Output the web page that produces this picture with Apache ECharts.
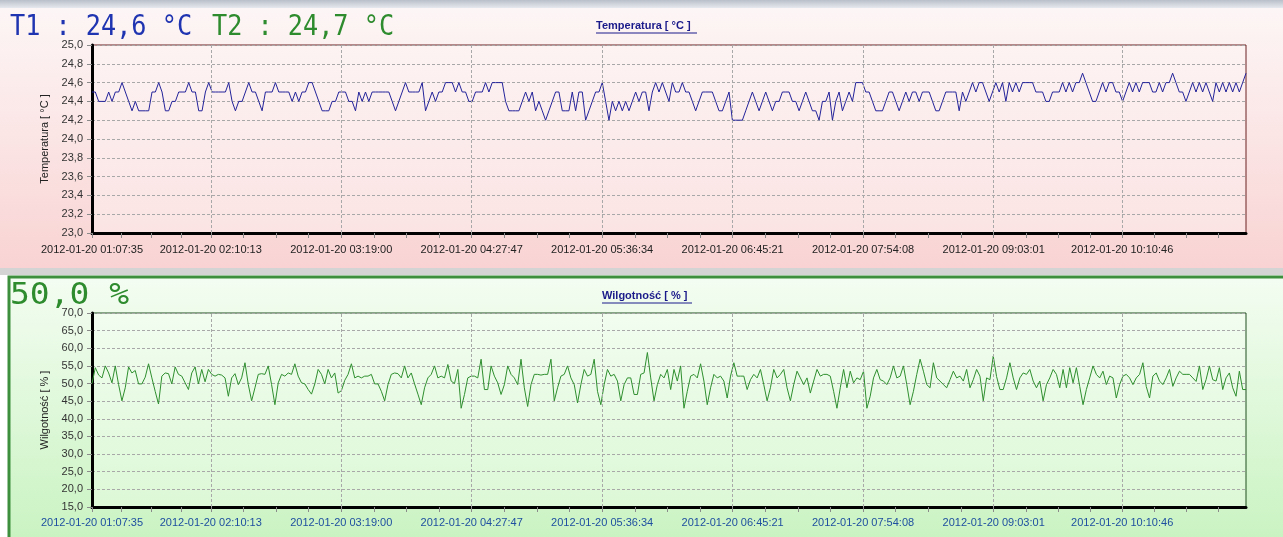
<!DOCTYPE html>
<html><head><meta charset="utf-8">
<script src="https://cdn.jsdelivr.net/npm/echarts@6/dist/echarts.min.js"></script>
<style>html,body{margin:0;padding:0;background:#fff}#c{width:1283px;height:537px}</style>
</head><body><div id="c"></div>
<script>
// ---- data ----
const timeLabels = ['2012-01-20 01:07:35','2012-01-20 02:10:13','2012-01-20 03:19:00','2012-01-20 04:27:47','2012-01-20 05:36:34','2012-01-20 06:45:21','2012-01-20 07:54:08','2012-01-20 09:03:01','2012-01-20 10:10:46'];
const rangeEnd = '2012-01-20 11:16:03';
const readT1 = 'T1 : 24,6 °C';
const readT2 = 'T2 : 24,7 °C';
const readH = '50,0 %';
const temperature = [
24.5,24.5,24.4,24.4,24.4,24.5,24.4,24.5,24.5,24.6,24.5,24.4,24.3,24.4,24.3,24.3,24.3,24.3,24.5,24.5,
24.6,24.5,24.3,24.3,24.4,24.4,24.5,24.5,24.5,24.6,24.5,24.5,24.3,24.3,24.5,24.6,24.5,24.5,24.5,24.5,
24.5,24.6,24.4,24.3,24.4,24.4,24.5,24.6,24.5,24.5,24.4,24.3,24.5,24.5,24.5,24.6,24.5,24.5,24.5,24.5,
24.4,24.5,24.4,24.5,24.5,24.6,24.6,24.5,24.4,24.3,24.3,24.3,24.4,24.4,24.5,24.5,24.5,24.4,24.4,24.3,
24.5,24.4,24.5,24.4,24.5,24.5,24.5,24.5,24.5,24.5,24.4,24.3,24.4,24.5,24.6,24.5,24.5,24.5,24.5,24.6,
24.3,24.4,24.5,24.4,24.5,24.5,24.6,24.6,
24.6,24.5,24.6,24.5,24.5,24.4,24.4,24.5,24.5,24.5,24.6,24.5,24.6,24.6,24.6,24.6,24.4,24.3,24.3,24.3,
24.3,24.4,24.5,24.4,24.5,24.3,24.4,24.3,24.2,24.3,24.4,24.5,24.5,24.3,24.3,24.3,24.5,24.3,24.5,24.5,
24.2,24.3,24.4,24.5,24.5,24.6,24.4,24.2,24.4,24.3,24.4,24.3,24.4,24.3,24.4,24.5,24.4,24.5,24.5,24.3,
24.5,24.6,24.5,24.6,24.5,24.4,24.6,24.5,24.5,24.6,24.5,24.5,24.4,24.3,24.4,24.5,24.5,24.5,24.5,24.4,
24.3,24.3,24.4,24.5,24.2,24.2,24.2,24.2,24.3,24.4,24.5,24.4,24.3,24.4,24.5,24.4,24.3,24.4,24.4,24.5,
24.5,24.5,24.4,24.4,24.3,24.4,24.5,24.4,24.3,24.3,24.2,24.4,24.4,24.5,24.2,24.4,24.5,24.3,24.4,24.5,
24.4,24.6,
24.6,24.6,24.5,24.5,24.4,24.3,24.3,24.3,24.4,24.5,24.5,24.4,24.3,24.4,24.5,24.4,24.5,24.5,24.4,24.5,
24.5,24.5,24.4,24.3,24.3,24.4,24.5,24.5,24.5,24.5,24.3,24.5,24.4,24.5,24.6,24.5,24.6,24.6,24.5,24.4,
24.5,24.6,24.5,24.6,24.4,24.6,24.5,24.6,24.5,24.6,24.6,24.6,24.6,24.5,24.5,24.5,24.4,24.4,24.5,24.5,
24.5,24.6,24.5,24.6,24.5,24.6,24.6,24.7,24.6,24.5,24.4,24.4,24.5,24.6,24.5,24.6,24.6,24.5,24.5,24.4,
24.5,24.6,24.5,24.6,24.5,24.6,24.6,24.6,24.5,24.5,24.6,24.5,24.6,24.6,24.7,24.6,24.5,24.5,24.4,24.5,
24.6,24.5,24.6,24.5,24.6,24.5,24.4,24.6,24.5,24.6,24.5,24.6,24.5,24.6,24.5,24.6,24.7];
const humidity = [
50.0,54.5,52.4,51.6,55.0,53.0,50.2,55.0,49.7,45.1,48.8,54.7,53.0,53.7,49.9,49.9,51.8,55.6,51.6,47.8,
44.2,52.1,53.0,52.8,49.9,54.7,52.6,52.1,50.2,48.3,53.0,54.7,49.9,54.0,50.5,54.0,52.6,52.1,52.6,52.4,
51.6,46.4,51.6,52.8,49.7,51.6,55.9,49.7,45.1,48.8,52.6,52.8,52.6,55.0,49.7,44.0,50.2,52.6,52.1,53.0,
52.6,55.6,52.1,50.2,49.9,48.3,47.0,49.9,54.0,52.6,49.9,54.0,51.6,53.0,47.3,48.0,50.9,52.6,55.6,51.6,
52.1,51.6,52.1,52.1,52.6,49.9,49.9,47.8,45.1,49.7,52.6,53.0,52.8,51.6,55.0,51.6,53.0,49.9,47.0,44.0,
48.8,51.6,52.6,55.0,51.6,52.1,51.6,55.4,
50.7,50.0,54.0,43.0,46.9,51.6,52.1,52.1,51.6,56.9,48.3,48.3,55.0,52.1,50.2,46.9,49.7,55.0,52.6,51.6,
49.7,56.9,48.8,43.5,49.7,52.6,52.6,52.4,52.6,52.6,56.9,45.1,48.8,52.1,52.6,55.0,51.6,49.7,44.5,49.7,
54.0,52.1,52.6,56.9,47.8,44.0,49.7,54.0,52.1,52.6,50.7,45.1,49.7,51.6,51.6,46.9,46.9,52.6,53.0,58.8,
51.6,45.1,49.7,52.6,51.6,54.0,48.3,54.0,50.7,55.0,43.0,47.8,52.1,52.6,51.6,55.6,50.7,44.0,48.8,52.6,
51.6,52.1,50.7,45.9,52.1,55.9,52.1,52.1,52.1,48.3,51.1,52.6,51.6,54.0,49.7,45.1,48.8,54.0,51.6,52.6,
54.0,48.8,45.1,49.7,53.5,51.6,49.7,51.6,47.3,50.7,54.0,52.1,52.6,52.6,52.1,47.8,43.0,48.8,54.0,48.8,
53.5,50.2,51.6,
51.1,53.5,43.0,46.4,51.6,54.0,51.1,50.7,49.7,51.6,55.0,51.6,52.1,55.0,49.7,44.0,47.8,52.6,56.9,53.5,
49.7,48.8,55.9,51.6,50.7,49.7,48.8,51.1,53.5,51.6,52.1,50.7,54.0,48.8,51.1,54.0,52.1,45.1,51.6,51.1,
57.8,52.0,48.3,48.3,51.6,55.9,51.6,48.3,51.6,53.0,52.6,54.0,50.7,48.8,50.7,45.1,49.7,51.6,54.0,52.6,
48.8,54.0,48.8,54.5,50.2,54.5,49.2,44.0,48.3,51.6,55.0,52.6,51.6,53.5,49.7,52.1,51.6,45.9,49.7,52.1,
52.6,51.6,49.7,51.6,52.6,55.9,49.2,45.9,52.1,53.0,50.7,49.7,51.6,54.0,49.2,51.6,53.5,52.6,52.6,52.6,
51.6,50.6,55.0,48.3,51.1,55.0,51.1,50.7,54.5,48.3,51.6,53.0,48.8,46.4,53.5,48.3,48.3];

// ---- helpers ----
function secs(s){const t=s.split(' ')[1].split(':').map(Number);return t[0]*3600+t[1]*60+t[2];}
const t0 = secs(timeLabels[0]);
const tickSecs = timeLabels.map(l=>secs(l)-t0);
const span = secs(rangeEnd)-t0;
const labelMap = {}; timeLabels.forEach((l,i)=>labelMap[tickSecs[i]]=l);
const minorSecs = [];
for(let i=0;i<tickSecs.length;i++){const a=tickSecs[i], b=(i+1<tickSecs.length)?tickSecs[i+1]:a+(tickSecs[i]-tickSecs[i-1]); const st=(b-a)/4; for(let k=1;k<4;k++){ if(a+k*st<span) minorSecs.push(a+k*st);} }
function toPairs(arr){const n=arr.length;return arr.map((v,i)=>[i*span/(n-1),v]);}
const comma = v=>v.toFixed(1).replace('.',',');

const FONT = 'Liberation Sans, Arial, sans-serif';
function xAxisCfg(gi,color,margin){return {
  type:'value', gridIndex:gi, min:0, max:span,
  axisLine:{show:true,onZero:false,lineStyle:{color:'#000',width:3}},
  axisTick:{show:true,customValues:tickSecs.concat(minorSecs),length:5,lineStyle:{color:'#8a8a8a'}},
  axisLabel:{customValues:tickSecs,formatter:v=>labelMap[v]||'',color:color,fontFamily:FONT,fontSize:11,margin:margin},
  splitLine:{show:false}
};}
function yAxisCfg(gi,min,max,interval,name){return {
  type:'value', gridIndex:gi, min:min, max:max, interval:interval,
  name:name, nameLocation:'middle', nameRotate:90, nameGap:34,
  nameTextStyle:{color:'#222',fontFamily:FONT,fontSize:11},
  axisLine:{show:true,lineStyle:{color:'#000',width:3}},
  axisTick:{show:true,length:5,lineStyle:{color:'#8a8a8a'}},
  axisLabel:{formatter:v=>comma(v),color:'#333',fontFamily:FONT,fontSize:11,margin:9},
  splitLine:{show:true,lineStyle:{color:'#a8a8a8',type:[3,2],width:1}}
};}
function vLines(){return {silent:true,symbol:'none',label:{show:false},lineStyle:{color:'#a8a8a8',type:[3,2],width:1},
  data:tickSecs.slice(1).map(s=>({xAxis:s}))};}

const LCD = '"DejaVu Sans Mono", monospace';
const chart = echarts.init(document.getElementById('c'),null,{renderer:'canvas'});
const option = {
  animation:false,
  backgroundColor:'#fff',
  graphic:[
    {type:'rect',shape:{x:0,y:0,width:1283,height:8},style:{fill:new echarts.graphic.LinearGradient(0,0,0,1,[{offset:0,color:'#b9bfc9'},{offset:1,color:'#e6e9ee'}])},z:-10},
    {type:'rect',shape:{x:0,y:8,width:1283,height:260},style:{fill:new echarts.graphic.LinearGradient(0,0,0,1,[{offset:0,color:'#fdf6f6'},{offset:1,color:'#f9d3d3'}])},z:-10},
    {type:'rect',shape:{x:0,y:268,width:1283,height:7},style:{fill:'#d4d4d4'},z:-10},
    {type:'rect',shape:{x:9,y:277,width:1280,height:265},style:{fill:new echarts.graphic.LinearGradient(0,0,0,1,[{offset:0,color:'#f4fdf2'},{offset:1,color:'#c9f3c1'}]),stroke:'#3d8f3d',lineWidth:3},z:-10},
    {type:'text',x:10,y:14,scaleX:0.9,style:{text:readT1,fill:'#1f34b0',font:'28px '+LCD},z:10},
    {type:'text',x:212,y:14,scaleX:0.9,style:{text:readT2,fill:'#2e8b2e',font:'28px '+LCD},z:10},
    {type:'text',x:10,y:281,scaleX:1.1,style:{text:readH,fill:'#2e8b2e',font:'30px '+LCD},z:10},
    {type:'text',left:596,top:20,style:{text:'Temperatura [ °C ]',fill:'#1a1a8a',font:'bold 11px Liberation Sans, Arial'},z:10},
    {type:'line',shape:{x1:596,y1:33,x2:697,y2:33},style:{stroke:'#1a1a8a',lineWidth:1},z:10},
    {type:'text',left:602,top:290,style:{text:'Wilgotność [ % ]',fill:'#1a1a8a',font:'bold 11px Liberation Sans, Arial'},z:10},
    {type:'line',shape:{x1:602,y1:303,x2:692,y2:303},style:{stroke:'#1a1a8a',lineWidth:1},z:10}
  ],
  grid:[
    {left:92,right:37,top:45,height:188,show:true,borderColor:'#6b2020',borderWidth:1,
     backgroundColor:new echarts.graphic.LinearGradient(0,0,0,1,[{offset:0,color:'#fdf3f3'},{offset:1,color:'#fbe3e3'}])},
    {left:92,right:37,top:313,height:194,show:true,borderColor:'#1f4f1f',borderWidth:1,
     backgroundColor:new echarts.graphic.LinearGradient(0,0,0,1,[{offset:0,color:'#f2fdf0'},{offset:1,color:'#dcf8d6'}])}
  ],
  xAxis:[xAxisCfg(0,'#222',11),xAxisCfg(1,'#1f4fa0',10)],
  yAxis:[yAxisCfg(0,23,25,0.2,'Temperatura [ °C ]'),yAxisCfg(1,15,70,5,'Wilgotność [ % ]')],
  series:[
    {type:'line',xAxisIndex:0,yAxisIndex:0,data:toPairs(temperature),showSymbol:false,lineStyle:{color:'#23239a',width:1},markLine:vLines(),z:3},
    {type:'line',xAxisIndex:1,yAxisIndex:1,data:toPairs(humidity),showSymbol:false,lineStyle:{color:'#2f8f2f',width:1},markLine:vLines(),z:3}
  ]
};
chart.setOption(option);
</script></body></html>
